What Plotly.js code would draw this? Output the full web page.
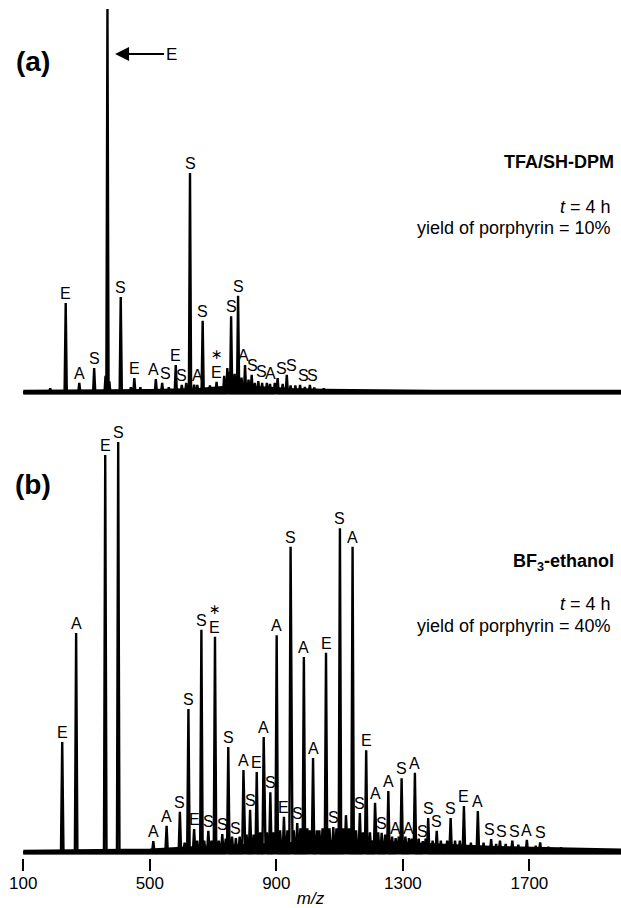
<!DOCTYPE html>
<html>
<head>
<meta charset="utf-8">
<script src="https://cdn.plot.ly/plotly-3.0.1.min.js"></script>
<style>html,body{margin:0;padding:0;background:#fff;}#chart{width:621px;height:908px;}</style>
</head>
<body>
<div id="chart"></div>
<script>
// ---------- DATA ----------
// Panel (a): TFA/SH-DPM, labelled peaks (m/z, relative intensity, label)
const mzA  = [234, 277, 324, 366, 408, 451, 519, 539, 582, 601, 627, 650, 667, 711, 757, 779, 801, 822, 843, 870, 904, 933, 975, 1006];
const intA = [23.4, 2.6, 6.5, 100, 25, 3.9, 3.6, 2.6, 7.3, 2.1, 57.3, 2.1, 18.8, 2.9, 20, 25.3, 7.3, 4.7, 3.1, 2.6, 3.9, 4.7, 2.1, 2.1];
const labA = ['E','A','S','','S','E','A','S','E','S','S','A','S','E','S','S','A','S','S','A','S','S','S','S'];
const starA = [711];
// Panel (a): unlabelled minor peaks
const minorMzA  = [185, 360, 372, 440, 470, 560, 615, 640, 690, 735, 745, 752, 768, 790, 812, 832, 855, 880, 895, 920, 945, 960, 990, 1020, 1050];
const minorIntA = [1.2, 4.5, 3, 1.5, 1.5, 1.5, 2.6, 2.2, 2, 4.5, 6.5, 5.5, 5, 4, 3.5, 2.6, 2.6, 2.4, 2.6, 2.4, 2, 2, 1.6, 1.4, 1.2];
// Panel (a): baseline envelope
const baseMzA  = [100, 300, 500, 650, 750, 850, 950, 1050, 1200, 1400, 1600, 1990];
const baseIntA = [0.5, 0.6, 0.7, 1.0, 1.6, 1.4, 1.0, 0.8, 0.6, 0.5, 0.5, 0.5];
const arrowMzA = 390;   // big E peak pointed by the arrow

// Panel (b): BF3-ethanol, labelled peaks
const mzB  = [223, 267, 359, 400, 511, 553, 595, 622, 640, 663, 685, 706, 729, 748, 772, 796, 817, 838, 860, 881, 901, 924, 945, 966, 987, 1016, 1057, 1080, 1101, 1141, 1164, 1184, 1212, 1233, 1254, 1277, 1296, 1319, 1338, 1363, 1380, 1407, 1451, 1493, 1537, 1579, 1607, 1646, 1692, 1734];
const intB = [27, 53.5, 96.8, 100, 2.9, 6.6, 10, 35, 5.8, 54.3, 5.4, 52.6, 4.6, 25.8, 3.6, 20.2, 10.5, 19.7, 28.2, 14.8, 53, 8.8, 74.5, 7.3, 47.7, 23.1, 48.7, 6.3, 79, 74.5, 9.7, 25, 12.2, 4.9, 15.1, 3.6, 18.2, 3.6, 19.5, 2.9, 8.5, 5.4, 8.5, 11.4, 10.2, 3.4, 3, 3, 3.2, 2.6];
const labB = ['E','A','E','S','A','A','S','S','E','S','S','E','S','S','S','A','S','E','A','S','A','E','S','S','A','A','E','S','S','A','S','E','A','S','A','A','S','A','A','S','S','S','S','E','A','S','S','S','A','S'];
const starB = [706];
// Panel (b): unlabelled minor peaks
const minorMzB  = [610, 650, 672, 695, 718, 740, 760, 784, 806, 828, 849, 870, 891, 912, 935, 955, 976, 998, 1006, 1028, 1036, 1046, 1068, 1090, 1112, 1120, 1130, 1152, 1174, 1196, 1222, 1244, 1266, 1287, 1308, 1328, 1350, 1372, 1394, 1420, 1440, 1465, 1480, 1515, 1555, 1595, 1625, 1665, 1720, 1760, 1800];
const minorIntB = [2.5, 3, 3, 3, 3, 3.5, 4, 4, 4.5, 4.5, 5, 5, 5, 5.5, 5.5, 5.5, 6, 6, 5.5, 5.5, 5.5, 6, 6, 6, 6, 9.2, 6, 5.5, 5, 5, 5, 4.5, 4, 4, 4, 3.5, 3.5, 3.5, 3, 3, 3, 3, 3, 2.5, 2.5, 2.2, 2.2, 2, 1.8, 1.5, 1.4];
// Panel (b): baseline envelope
const baseMzB  = [100, 300, 500, 600, 700, 800, 900, 1000, 1100, 1200, 1300, 1400, 1500, 1600, 1700, 1800, 1990];
const baseIntB = [0.5, 0.6, 0.8, 1.2, 1.5, 1.8, 2.2, 2.6, 3.0, 2.8, 2.4, 2.0, 1.7, 1.4, 1.2, 1.0, 0.8];

// Axis ticks
const tickVals = [100, 500, 900, 1300, 1700];
const tickText = ['100', '500', '900', '1300', '1700'];

// Text
const titleA = '<b>TFA/SH-DPM</b>';
const titleB = '<b>BF<sub>3</sub>-ethanol</b>';
const timeText = '<i>t</i> = 4 h';
const yieldA = 'yield of porphyrin = 10%';
const yieldB = 'yield of porphyrin = 40%';

// ---------- BUILD ----------
const FONT = 'Liberation Sans, Arial, Helvetica, sans-serif';
const xRange = [26.3, 1989.6];
// small horizontal nudges (px) for crowded labels
const nudgeA = {519: -2, 539: 3, 801: -2, 822: 1, 843: 3, 870: 4, 904: 4, 933: 5, 975: 3, 1006: 3};
const nudgeB = {1579: -2, 1607: 2, 1646: 2};

function sticks(mzs, ints, minorMz, minorInt, baseMz, hw) {
  const pts = [];
  mzs.forEach((m, i) => pts.push([m, ints[i]]));
  minorMz.forEach((m, i) => pts.push([m, minorInt[i]]));
  pts.sort((a, b) => a[0] - b[0]);
  const x = [baseMz[0]], y = [0];
  pts.forEach(p => { x.push(p[0] - hw, p[0], p[0] + hw); y.push(0, p[1], 0); });
  x.push(baseMz[baseMz.length - 1]); y.push(0);
  return {x, y};
}

const sA = sticks(mzA, intA, minorMzA, minorIntA, baseMzA, 3.5);
const sB = sticks(mzB, intB, minorMzB, minorIntB, baseMzB, 4);

const traces = [
  {x: baseMzA, y: baseMzA.map(() => 0), xaxis: 'x2', yaxis: 'y2', type: 'scatter', mode: 'lines',
   line: {color: '#000', width: 3}, hoverinfo: 'skip'},
  {x: baseMzA, y: baseIntA, xaxis: 'x2', yaxis: 'y2', type: 'scatter', mode: 'lines', fill: 'tozeroy',
   fillcolor: '#000', line: {color: '#000', width: 2.5}, hoverinfo: 'skip'},
  {x: sA.x, y: sA.y, xaxis: 'x2', yaxis: 'y2', type: 'scatter', mode: 'lines',
   line: {color: '#000', width: 2.4}, hoverinfo: 'skip'},
  {x: baseMzB, y: baseMzB.map(() => 0), xaxis: 'x', yaxis: 'y', type: 'scatter', mode: 'lines',
   line: {color: '#000', width: 3}, hoverinfo: 'skip'},
  {x: baseMzB, y: baseIntB, xaxis: 'x', yaxis: 'y', type: 'scatter', mode: 'lines', fill: 'tozeroy',
   fillcolor: '#000', line: {color: '#000', width: 2.5}, hoverinfo: 'skip'},
  {x: sB.x, y: sB.y, xaxis: 'x', yaxis: 'y', type: 'scatter', mode: 'lines',
   line: {color: '#000', width: 2.4}, hoverinfo: 'skip'}
];

const annotations = [];
function addLabels(mzs, ints, labs, stars, xref, yref, size, nudge) {
  mzs.forEach((m, i) => {
    if (!labs[i]) return;
    const xs = (nudge && nudge[m]) || 0;
    annotations.push({x: m, y: ints[i], xref, yref, text: labs[i], showarrow: false,
      yanchor: 'bottom', xanchor: 'center', borderpad: 0, xshift: xs,
      font: {family: FONT, size, color: '#000'}});
    if (stars.indexOf(m) >= 0) {
      annotations.push({x: m, y: ints[i], xref, yref, text: '∗', showarrow: false,
        yanchor: 'bottom', xanchor: 'center', yshift: size + 3, borderpad: 0,
        font: {family: 'DejaVu Sans, sans-serif', size: size - 2, color: '#000'}});
    }
  });
}
addLabels(mzA, intA, labA, starA, 'x2', 'y2', 16, nudgeA);
addLabels(mzB, intB, labB, starB, 'x', 'y', 16, nudgeB);

// arrow to the big E peak in (a)
annotations.push({x: arrowMzA, y: 1 - 54/908, xref: 'x2', yref: 'paper', text: 'E',
  showarrow: true, ax: 56, ay: 0, arrowhead: 2, arrowsize: 1.4, arrowwidth: 2, arrowcolor: '#000',
  standoff: 0, font: {family: FONT, size: 17, color: '#000'}});

function para(text, xpx, ypx, size, anchor) {
  annotations.push({x: xpx/621, y: 1 - ypx/908, xref: 'paper', yref: 'paper', text, showarrow: false,
    xanchor: anchor || 'right', yanchor: 'middle', font: {family: FONT, size, color: '#000'}});
}
para('<b>(a)</b>', 33, 62, 28, 'center');
para('<b>(b)</b>', 33, 484, 28, 'center');
para(titleA, 616, 162, 18);
para(timeText, 613, 207, 18);
para(yieldA, 613, 228, 18);
para(titleB, 616, 562, 18);
para(timeText, 613, 604, 18);
para(yieldB, 613, 626, 18);

const layout = {
  width: 621, height: 908,
  margin: {l: 0, r: 0, t: 0, b: 0},
  paper_bgcolor: '#fff', plot_bgcolor: '#fff',
  showlegend: false,
  font: {family: FONT, color: '#000'},
  xaxis: {domain: [0, 1], range: xRange, anchor: 'y', showgrid: false, zeroline: false, showline: false,
    ticks: 'outside', ticklen: 12, tickwidth: 2, tickcolor: '#000', ticklabelstandoff: -3,
    tickvals: tickVals, ticktext: tickText, tickfont: {family: FONT, size: 17, color: '#000'},
    title: {text: '<i>m/z</i>', font: {family: FONT, size: 17, color: '#000'}, standoff: 0}},
  yaxis: {domain: [0.0547, 0.5359], range: [-1.3, 105], visible: false, anchor: 'x'},
  xaxis2: {domain: [0, 1], range: xRange, anchor: 'y2', visible: false},
  yaxis2: {domain: [0.5617, 0.9901], range: [-1.3, 100], visible: false, anchor: 'x2'},
  annotations
};

Plotly.newPlot('chart', traces, layout, {displayModeBar: false, staticPlot: true});
</script>
</body>
</html>
